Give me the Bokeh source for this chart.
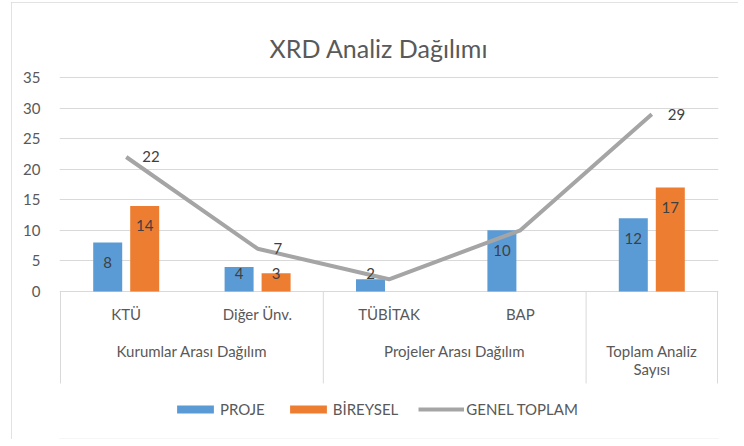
from bokeh.plotting import figure
from bokeh.models import Range1d, FixedTicker, ColumnDataSource, Legend, LegendItem
from bokeh.core.properties import value
from bokeh.embed import file_html
from bokeh.resources import INLINE

# ---------------- data ----------------
title_text = "XRD Analiz Dağılımı"
categories = ["KTÜ", "Diğer Ünv.", "TÜBİTAK", "BAP", ""]
groups = ["Kurumlar Arası Dağılım", "Projeler Arası Dağılım", "Toplam Analiz\nSayısı"]
group_sizes = [2, 2, 1]
proje = [8, 4, 2, 10, 12]
bireysel = [14, 3, 0, 0, 17]
genel_toplam = [22, 7, 2, 10, 29]
genel_labels = ["22", "7", "", "", "29"]
y_ticks = [0, 5, 10, 15, 20, 25, 30, 35]
series_names = ["PROJE", "BİREYSEL", "GENEL TOPLAM"]

# ---------------- styles ----------------
FONT = "Lato"
BLUE = "#5B9BD5"
ORANGE = "#ED7D31"
GRAY = "#A5A5A5"
GRID = "#D9D9D9"
AXIS_TXT = "#595959"
DATA_TXT = "#404040"

OX, OY = 11, 2          # figure position on the page
W, H = 727, 437
FRAME_L, FRAME_R, FRAME_T, FRAME_B = 59, 718, 75, 438  # page px
Y0_PX, Y35_PX, SEP_PX = 291, 77, 383
PX_PER_UNIT = (Y0_PX - Y35_PX) / 35
n = len(categories)
PX_PER_CAT = (717 - 60) / n

y_top = 35 + (Y35_PX - FRAME_T) / PX_PER_UNIT
y_bot = -(FRAME_B - Y0_PX) / PX_PER_UNIT
sep_low = -(SEP_PX - Y0_PX) / PX_PER_UNIT
x_lo = -(60 - FRAME_L) / PX_PER_CAT
x_hi = n + (FRAME_R - 717) / PX_PER_CAT

p = figure(width=W, height=H, x_range=Range1d(x_lo, x_hi), y_range=Range1d(y_bot, y_top),
           output_backend="svg", toolbar_location=None, x_axis_location=None,
           min_border_left=FRAME_L - OX, min_border_right=OX + W - FRAME_R,
           min_border_top=FRAME_T - OY, min_border_bottom=OY + H - FRAME_B)
p.outline_line_color = None
p.background_fill_color = "white"
p.border_fill_color = "white"
p.styles = {"margin-left": f"{OX}px", "margin-top": f"{OY}px",
            "outline": "1px solid #D9D9D9", "outline-offset": "-1px"}

# title
TITLE_PAD = 8
p.title.text = title_text
p.title.align = "left"
p.title.offset = 210
p.title.vertical_align = "bottom"
p.title.text_font = FONT
p.title.text_font_size = "25px"
p.title.text_font_style = "normal"
p.title.text_color = AXIS_TXT
if "padding" in p.title.properties():
    p.title.padding = TITLE_PAD
    p.title.offset = 210 - TITLE_PAD

# y axis
p.yaxis.ticker = FixedTicker(ticks=y_ticks)
p.yaxis.axis_line_color = None
p.yaxis.major_tick_line_color = None
p.yaxis.minor_tick_line_color = None
p.yaxis.major_label_standoff = 13
p.yaxis.major_label_text_font = FONT
p.yaxis.major_label_text_font_size = "15px"
p.yaxis.major_label_text_color = AXIS_TXT
p.xgrid.visible = False
p.ygrid.ticker = FixedTicker(ticks=y_ticks)
p.ygrid.grid_line_color = GRID
p.ygrid.grid_line_width = 1

xc = [i + 0.5 for i in range(n)]
dx = 18.5 / PX_PER_CAT
bw = 29 / PX_PER_CAT
src = ColumnDataSource(dict(x=xc, xp=[x - dx for x in xc], xb=[x + dx for x in xc],
                            proje=proje, bireysel=bireysel, genel=genel_toplam))

# category axis (multi-level) drawn inside the frame below zero
bounds = [0]
for s in group_sizes:
    bounds.append(bounds[-1] + s)
p.segment(x0=[0], y0=[0], x1=[n], y1=[0], line_color=GRID, line_width=1)
p.segment(x0=bounds, y0=[0] * len(bounds), x1=bounds, y1=[sep_low] * len(bounds),
          line_color=GRID, line_width=1)

r1 = p.vbar(x="xp", top="proje", width=bw, fill_color=BLUE, line_color=None, source=src)
r2 = p.vbar(x="xb", top="bireysel", width=bw, fill_color=ORANGE, line_color=None, source=src)
r3 = p.line(x="x", y="genel", line_color=GRAY, line_width=4, line_join="round", source=src)

# bar data labels (inside end)
def lab_off(v):
    return min(20, v * PX_PER_UNIT - 18)

bx, by, bt, bo = [], [], [], []
for i in range(n):
    for xs, vals in ((src.data["xp"], proje), (src.data["xb"], bireysel)):
        if vals[i] > 0:
            bx.append(xs[i]); by.append(vals[i]); bt.append(str(vals[i])); bo.append(lab_off(vals[i]))
p.text(x=bx, y=by, text=bt, y_offset=bo, text_align="center", text_baseline="middle",
       text_font=value(FONT), text_font_size="15px", text_color=DATA_TXT)

# line data labels (right)
lx = [xc[i] for i in range(n) if genel_labels[i]]
ly = [genel_toplam[i] for i in range(n) if genel_labels[i]]
lt = [genel_labels[i] for i in range(n) if genel_labels[i]]
p.text(x=lx, y=ly, text=lt, x_offset=16, text_align="left", text_baseline="middle",
       text_font=value(FONT), text_font_size="15px", text_color=DATA_TXT)

cx = [xc[i] for i in range(n) if categories[i]]
ct = [c for c in categories if c]
p.text(x=cx, y=[0] * len(cx), text=ct, y_offset=22, text_align="center", text_baseline="middle",
       text_font=value(FONT), text_font_size="15px", text_color=AXIS_TXT)
gx = [(bounds[i] + bounds[i + 1]) / 2 for i in range(len(groups))]
p.text(x=gx, y=[0] * len(gx), text=groups, y_offset=50, text_align="center", text_baseline="top",
       text_line_height=1.05, text_font=value(FONT), text_font_size="15px", text_color=AXIS_TXT)

legend = Legend(items=[LegendItem(label=series_names[0], renderers=[r1]),
                       LegendItem(label=series_names[1], renderers=[r2]),
                       LegendItem(label=series_names[2], renderers=[r3])],
                orientation="horizontal", location=(113, 20), glyph_width=46, glyph_height=10,
                label_standoff=2, spacing=20, padding=0, margin=0,
                label_text_font=FONT, label_text_font_size="15px", label_text_color=AXIS_TXT,
                border_line_color=None, background_fill_alpha=0)
p.add_layout(legend, "center")

open("out.html", "w").write(file_html(p, INLINE))
